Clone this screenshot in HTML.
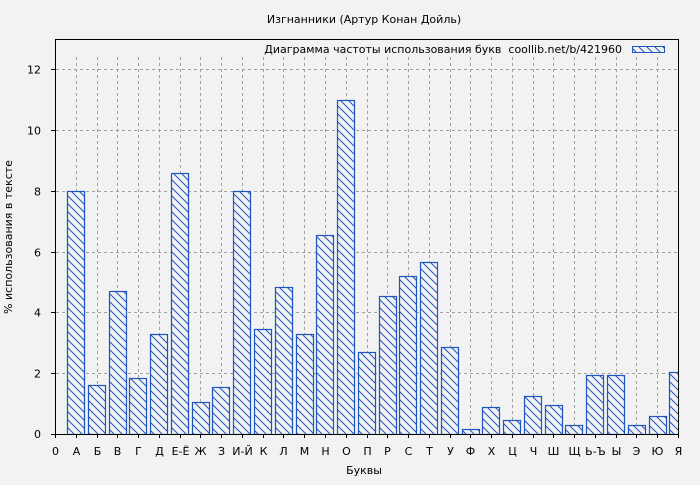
<!DOCTYPE html>
<html><head><meta charset="utf-8"><style>
html,body{margin:0;padding:0;background:#f2f2f2;}
svg text{font-family:"DejaVu Sans","Liberation Sans",sans-serif;font-size:11px;fill:#000;}
</style></head><body>
<svg width="700" height="480" xmlns="http://www.w3.org/2000/svg">
<defs>
<pattern id="h" width="8" height="8" patternUnits="userSpaceOnUse">
<rect width="8" height="8" fill="#f2f2f2"/>
<path d="M-1,-1 L9,9 M-1,7 L1,9 M7,-1 L9,1" stroke="#1f55c0" stroke-width="1"/>
</pattern>
<clipPath id="c"><rect x="55" y="39" width="623" height="396"/></clipPath>
</defs>
<rect width="700" height="480" fill="#f2f2f2"/>
<text x="364" y="23" text-anchor="middle">Изгнанники (Артур Конан Дойль)</text>
<g id="grid" stroke="#a0a0a0" stroke-dasharray="3,3" stroke-width="1"></g>
<g id="bars" clip-path="url(#c)"></g>
<rect x="55.5" y="39.5" width="623" height="395" fill="none" stroke="#000" stroke-width="1"/>
<g id="ticks" stroke="#000"></g>
<g id="labels"></g>
<text x="622" y="53" text-anchor="end" xml:space="preserve">Диаграмма частоты использования букв  coollib.net/b/421960</text>
<rect x="632.5" y="46.5" width="32" height="6" fill="url(#h)" stroke="#1f55c0"/>
<text x="364" y="474" text-anchor="middle">Буквы</text>
<text transform="translate(12,237) rotate(-90)" text-anchor="middle">% использования в тексте</text>
</svg>
<script>
var ns="http://www.w3.org/2000/svg";
function el(p,t,a,txt){var e=document.createElementNS(ns,t);for(var k in a)e.setAttribute(k,a[k]);if(txt!==undefined)e.textContent=txt;document.getElementById(p).appendChild(e);}
var L=["0","А","Б","В","Г","Д","Е-Ё","Ж","З","И-Й","К","Л","М","Н","О","П","Р","С","Т","У","Ф","Х","Ц","Ч","Ш","Щ","Ь-Ъ","Ы","Э","Ю","Я"];
var V=[null,8.0,1.6,4.7,1.85,3.3,8.6,1.05,1.55,8.0,3.45,4.85,3.3,6.55,11.0,2.7,4.55,5.2,5.65,2.85,0.15,0.9,0.45,1.25,0.95,0.3,1.95,1.95,0.3,0.6,2.03];
var x0=55,dx=623/30,y0=434,sy=30.4;
for(var j=1;j<=6;j++){var y=Math.round(y0-2*j*sy)+0.5;el("grid","line",{x1:56,x2:678,y1:y,y2:y});
 el("ticks","line",{x1:51,x2:55,y1:y,y2:y});el("labels","text",{x:41,y:y+4,"text-anchor":"end"},String(2*j));}
el("ticks","line",{x1:51,x2:55,y1:434.5,y2:434.5});el("labels","text",{x:41,y:438,"text-anchor":"end"},"0");
for(var i=0;i<=30;i++){var x=Math.round(x0+i*dx)+0.5;
 if(i>0&&i<30)el("grid","line",{x1:x,x2:x,y1:57,y2:434});
 el("ticks","line",{x1:x,x2:x,y1:434,y2:438});
 el("labels","text",{x:x,y:455,"text-anchor":"middle"},L[i]);
 if(V[i]!=null){var h=V[i]*sy,bx=x0+i*dx-8.7;el("bars","rect",{x:Math.round(bx)+0.5,y:Math.round(y0-h)+0.5,width:17,height:Math.round(h),fill:"url(#h)",stroke:"#1f55c0","stroke-width":1.2});}
}
</script>
</body></html>
